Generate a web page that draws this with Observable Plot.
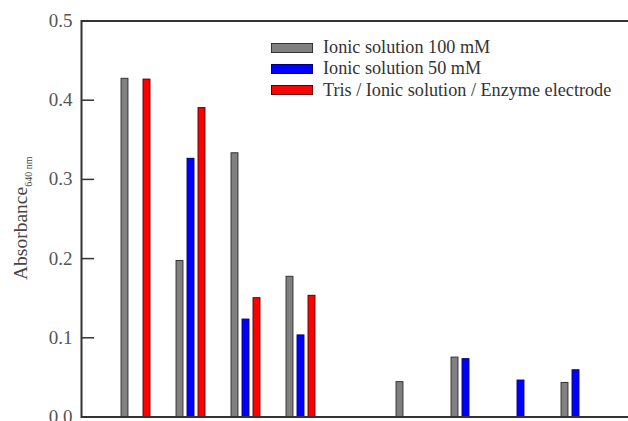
<!DOCTYPE html>
<html>
<head>
<meta charset="utf-8">
<script src="https://cdn.jsdelivr.net/npm/d3@7"></script>
<script src="https://cdn.jsdelivr.net/npm/@observablehq/plot@0.6"></script>
<style>
  html, body { margin: 0; padding: 0; background: #fff; overflow: hidden; }
  #wrap { position: relative; width: 628px; height: 421px; overflow: hidden; }
  #chart svg { max-width: none !important; display: block; }
  #legend { position: absolute; left: 271px; top: 37px; font-family: "Liberation Serif", "Times New Roman", "DejaVu Serif", serif; font-size: 18.2px; color: #333; }
  #legend .row { display: flex; align-items: center; height: 21.3px; white-space: nowrap; }
  #legend .sw { display: inline-block; width: 40px; height: 8px; border: 1px solid #333; margin-right: 10px; }
</style>
</head>
<body>
<div id="wrap"><div id="chart"></div><div id="legend"></div></div>
<script>
// ---- data ----
const groups = [1, 2, 3, 4, 5, 6, 7, 8, 9];
const seriesNames = ["Ionic solution 100 mM", "Ionic solution 50 mM", "Tris / Ionic solution / Enzyme electrode"];
const ionic100 = [0.427, 0.197, 0.333, 0.177, null, 0.044, 0.075, null, 0.043];
const ionic50  = [null, 0.326, 0.123, 0.103, null, null, 0.073, 0.046, 0.059];
const trisEnz  = [0.426, 0.390, 0.150, 0.153, null, null, null, null, null];
const yTicks = [0, 0.1, 0.2, 0.3, 0.4, 0.5];
const innerTicks = [0.1, 0.2, 0.3, 0.4];
const fills = ["#808080", "#0000ff", "#ff0000"];
const strokes = ["#333333", "#00007a", "#5a0000"];

const seriesValues = [ionic100, ionic50, trisEnz];
const rows = [];
seriesValues.forEach((vals, s) => {
  vals.forEach((v, i) => { if (v != null) rows.push({group: groups[i], series: seriesNames[s], value: v}); });
});

const serif = '"Liberation Serif", "Times New Roman", "DejaVu Serif", serif';
const W = 640, H = 440, mL = 81, mR = 10, mT = 20.5, mB = 23.5;
const plotW = W - mL - mR;
const step = 55.6, barW = 7.5, gap = 11;
// inset per series so the three bars sit side by side inside each group band
const half = (step - barW) / 2;
const insets = [-gap, 0, gap].map(off => ({insetLeft: half + off, insetRight: half - off}));

const chart = Plot.plot({
  width: W, height: H,
  marginLeft: mL, marginRight: mR, marginTop: mT, marginBottom: mB,
  style: {fontFamily: serif, fontSize: "19px", color: "#555", background: "white"},
  x: {type: "band", domain: groups, paddingInner: 0, paddingOuter: 0.437, axis: null},
  y: {domain: [0, 0.5], ticks: yTicks, tickFormat: d => d.toFixed(1), tickSize: 0, tickPadding: 9, label: null},
  marks: [
    Plot.ruleY(innerTicks, {stroke: "#333", strokeWidth: 1.5, insetRight: plotW - 13}),
    ...seriesNames.map((name, s) => Plot.barY(rows.filter(d => d.series === name), {
      x: "group", y: "value", fill: fills[s], stroke: strokes[s], strokeWidth: 1,
      ...insets[s]
    })),
    Plot.frame({stroke: "#333", strokeWidth: 2})
  ]
});
document.getElementById("chart").appendChild(chart);

// y-axis title with subscript
const svg = d3.select(chart.tagName.toLowerCase() === "svg" ? chart : chart.querySelector("svg"));
const t = svg.append("text")
  .attr("transform", "translate(27,280) rotate(-90)")
  .attr("text-anchor", "start")
  .style("font-family", serif)
  .attr("font-size", 19.5)
  .attr("fill", "#444");
t.append("tspan").text("Absorbance");
t.append("tspan").attr("font-size", 10).attr("dy", 5).text("640 nm");

// legend
const lg = d3.select("#legend");
seriesNames.forEach((name, s) => {
  const r = lg.append("div").attr("class", "row");
  r.append("span").attr("class", "sw").style("background", fills[s]).style("border-color", strokes[s]);
  r.append("span").text(name);
});
</script>
</body>
</html>
